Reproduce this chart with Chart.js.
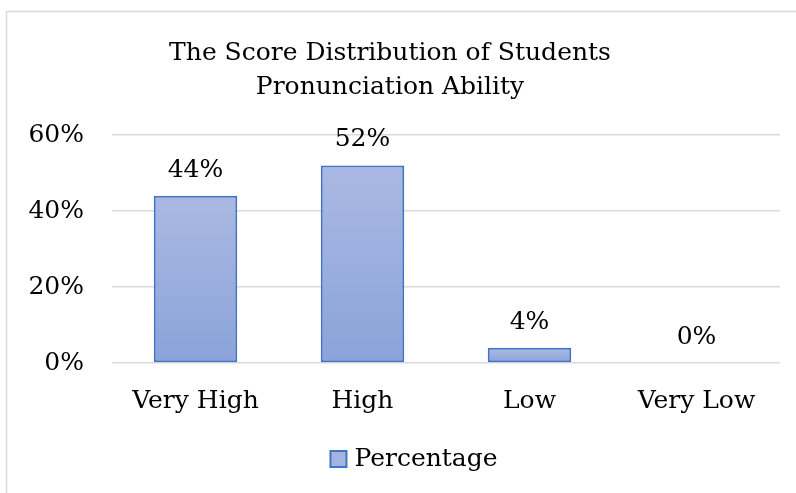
<!DOCTYPE html>
<html>
<head>
<meta charset="utf-8">
<script src="https://cdn.jsdelivr.net/npm/chart.js@4.4.1/dist/chart.umd.min.js"></script>
<style>
  html, body { margin: 0; padding: 0; background: #fff; }
  #wrap { position: relative; width: 796px; height: 493px; }
</style>
</head>
<body>
<div id="wrap"><canvas id="scoreChart" width="796" height="493"></canvas></div>
<script>
// chart data
const categories = ["Very High", "High", "Low", "Very Low"];
const percentages = [44, 52, 4, 0];
const yTicks = [0, 20, 40, 60];
const titleLines = ["The Score Distribution of Students", "Pronunciation Ability"];
const seriesName = "Percentage";

const FONT = "'DejaVu Serif', serif";
const FSIZE = 25;
const GRID = "#D9D9D9";

// per-bar vertical gradient (light at top, darker at bottom)
function barGradient(ctx) {
    const chart = ctx.chart;
    if (!chart.chartArea || ctx.type !== "data") return "#9AAEDD";
    const y = chart.scales.y;
    const top = y.getPixelForValue(ctx.raw);
    const bottom = y.getPixelForValue(0);
    if (bottom - top < 1) return "#9AAEDD";
    const g = chart.ctx.createLinearGradient(0, top, 0, bottom);
    g.addColorStop(0, "#AAB9E2");
    g.addColorStop(1, "#8BA3DA");
    return g;
}

// outer frame like the office chart border
const framePlugin = {
    id: "frame",
    beforeDraw(chart) {
        const c = chart.ctx;
        c.save();
        c.strokeStyle = GRID;
        c.lineWidth = 1.5;
        c.beginPath();
        c.moveTo(6.5, chart.height);
        c.lineTo(6.5, 11.5);
        c.lineTo(chart.width, 11.5);
        c.stroke();
        c.restore();
    }
};

// value labels above bars
const valueLabels = {
    id: "valueLabels",
    afterDatasetsDraw(chart) {
        const c = chart.ctx;
        const meta = chart.getDatasetMeta(0);
        c.save();
        c.font = FSIZE + "px " + FONT;
        c.fillStyle = "#000";
        c.textAlign = "center";
        c.textBaseline = "alphabetic";
        meta.data.forEach((bar, i) => {
            c.fillText(percentages[i] + "%", bar.x, bar.y - 19);
        });
        c.restore();
    }
};

// legend at the bottom (single series), placed like the office chart
const bottomLegend = {
    id: "bottomLegend",
    afterDraw(chart) {
        const c = chart.ctx;
        c.save();
        c.font = FSIZE + "px " + FONT;
        const textW = c.measureText(seriesName).width;
        const box = 16, gap = 8;
        const total = box + gap + textW;
        const cx = 414, cy = 459;
        const x0 = cx - total / 2;
        c.fillStyle = "#A3B4E0";
        c.fillRect(x0, cy - box / 2, box, box);
        c.strokeStyle = "#4472C4";
        c.lineWidth = 2;
        c.strokeRect(x0, cy - box / 2, box, box);
        c.fillStyle = "#000";
        c.textAlign = "left";
        c.textBaseline = "middle";
        c.fillText(seriesName, x0 + box + gap, cy);
        c.restore();
    }
};

const ctx = document.getElementById("scoreChart").getContext("2d");

new Chart(ctx, {
    type: "bar",
    data: {
        labels: categories,
        datasets: [{
            label: seriesName,
            data: percentages,
            backgroundColor: barGradient,
            borderColor: "#4472C4",
            borderWidth: 2,
            borderSkipped: false,
            categoryPercentage: 1,
            barPercentage: 0.5,
        }]
    },
    options: {
        responsive: false,
        animation: false,
        layout: { padding: { top: 12, right: 16, bottom: 59, left: 0 } },
        scales: {
            x: {
                grid: { display: false },
                border: { display: false },
                ticks: { color: "#000", font: { family: FONT, size: FSIZE }, padding: 15 },
                afterFit: scale => { scale.height = 71; },
            },
            y: {
                min: 0,
                max: 60,
                afterBuildTicks: axis => { axis.ticks = yTicks.map(v => ({ value: v })); },
                afterFit: scale => { scale.width = 112; },
                grid: { color: GRID, lineWidth: 1.5, drawTicks: false },
                border: { display: false },
                ticks: {
                    color: "#000",
                    font: { family: FONT, size: FSIZE },
                    padding: 28,
                    callback: v => v + "%",
                },
            }
        },
        plugins: {
            title: {
                display: true,
                text: titleLines,
                color: "#000",
                font: { family: FONT, size: FSIZE, weight: "normal", lineHeight: 34 / FSIZE },
                padding: { top: 24, bottom: 31 },
            },
            legend: { display: false },
            tooltip: { enabled: false },
        }
    },
    plugins: [framePlugin, valueLabels, bottomLegend]
});
</script>
</body>
</html>
